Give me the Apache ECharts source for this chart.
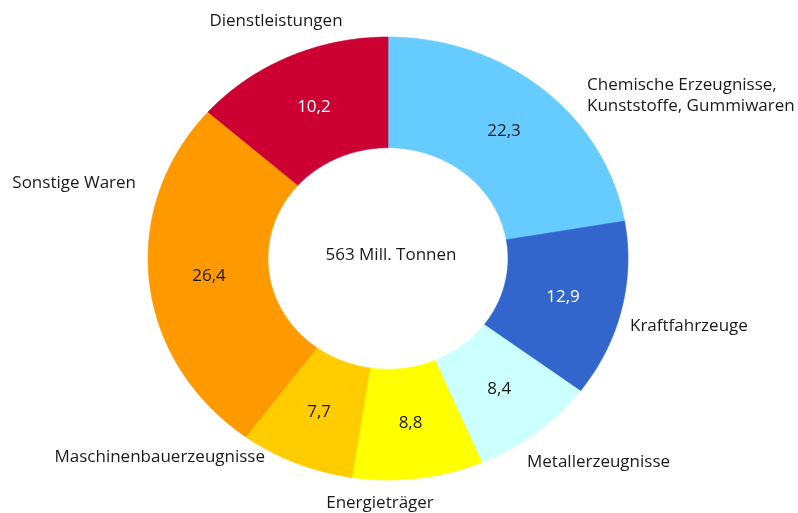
<!DOCTYPE html>
<html>
<head>
<meta charset="utf-8">
<script src="https://cdn.jsdelivr.net/npm/echarts@6/dist/echarts.min.js"></script>
<style>
html,body{margin:0;padding:0;background:#fff;}
#chart{width:798px;height:513px;}
</style>
</head>
<body>
<div id="chart"></div>
<script>
// ---- data ----
var categories = ['Chemische Erzeugnisse,\nKunststoffe, Gummiwaren', 'Kraftfahrzeuge', 'Metallerzeugnisse', 'Energieträger', 'Maschinenbauerzeugnisse', 'Sonstige Waren', 'Dienstleistungen'];
var values = [22.3, 12.9, 8.4, 8.8, 7.7, 26.4, 10.2];   // percent
var fullCircle = 100;                                   // percent for a full ring
var centerText = '563 Mill. Tonnen';

// ---- styles ----
var colors = ['#66CCFF', '#3366CC', '#CCFFFF', '#FFFF00', '#FFCC00', '#FF9900', '#CC0033'];
var valueLabelColors = ['#1a1a1a', '#ffffff', '#1a1a1a', '#1a1a1a', '#1a1a1a', '#1a1a1a', '#ffffff'];
// outer label placement (pixels): x, y, align
var labelLayout = [
  [587, 96, 'left'],
  [630, 326, 'left'],
  [527, 462, 'left'],
  [380, 503, 'center'],
  [265, 457, 'right'],
  [136, 183, 'right'],
  [276, 21, 'center']
];
var FONT = '"Open Sans", sans-serif';
var FS = 17;
var innerR = 0.5, outerR = 1.0;

// cumulative starts; the last slice closes the ring (as in the source picture)
var cum = [];
var acc = 0;
values.forEach(function (v) { cum.push(acc); acc += v; });

var seriesData = values.map(function (v, i) {
  var drawnEnd = (i === values.length - 1) ? fullCircle : cum[i] + v;
  return { name: categories[i], value: [cum[i], drawnEnd, v] };
});

function fmt(v) { return v.toFixed(1).replace('.', ','); }

function renderItem(params, api) {
  var i = params.dataIndex;
  var start = api.value(0) / fullCircle * Math.PI * 2;
  var end = api.value(1) / fullCircle * Math.PI * 2;
  var span = end - start;
  var steps = Math.max(8, Math.ceil(span / 0.01));
  var pts = [];
  for (var k = 0; k <= steps; k++) {
    var a = start + span * k / steps;
    pts.push(api.coord([outerR * Math.sin(a), outerR * Math.cos(a)]));
  }
  for (var k2 = steps; k2 >= 0; k2--) {
    var a2 = start + span * k2 / steps;
    pts.push(api.coord([innerR * Math.sin(a2), innerR * Math.cos(a2)]));
  }
  var mid = (start + end) / 2;
  var lp = api.coord([0.75 * Math.sin(mid), 0.75 * Math.cos(mid)]);
  return {
    type: 'group',
    children: [
      {
        type: 'polygon',
        shape: { points: pts },
        style: { fill: colors[i], stroke: colors[i], lineWidth: 0.6 }
      },
      {
        type: 'text',
        x: lp[0], y: lp[1],
        style: {
          text: fmt(api.value(2)),
          fill: valueLabelColors[i],
          font: FS + 'px ' + FONT,
          align: 'center',
          verticalAlign: 'middle'
        }
      }
    ]
  };
}

var graphics = categories.map(function (c, i) {
  var l = labelLayout[i];
  return {
    type: 'text',
    x: l[0], y: l[1],
    style: {
      text: c,
      fill: '#1a1a1a',
      font: FS + 'px ' + FONT,
      align: l[2],
      verticalAlign: 'middle',
      lineHeight: 21
    }
  };
});
graphics.push({
  type: 'text', x: 391, y: 255,
  style: { text: centerText, fill: '#1a1a1a', font: FS + 'px ' + FONT, align: 'center', verticalAlign: 'middle' }
});

var chart = echarts.init(document.getElementById('chart'), null, { renderer: 'canvas' });
chart.setOption({
  animation: false,
  backgroundColor: '#ffffff',
  grid: { left: 148, top: 37, width: 480, height: 443 },
  xAxis: { type: 'value', min: -1, max: 1, show: false },
  yAxis: { type: 'value', min: -1, max: 1, show: false },
  series: [{
    type: 'custom',
    renderItem: renderItem,
    data: seriesData,
    clip: false
  }],
  graphic: graphics
});
</script>
</body>
</html>
